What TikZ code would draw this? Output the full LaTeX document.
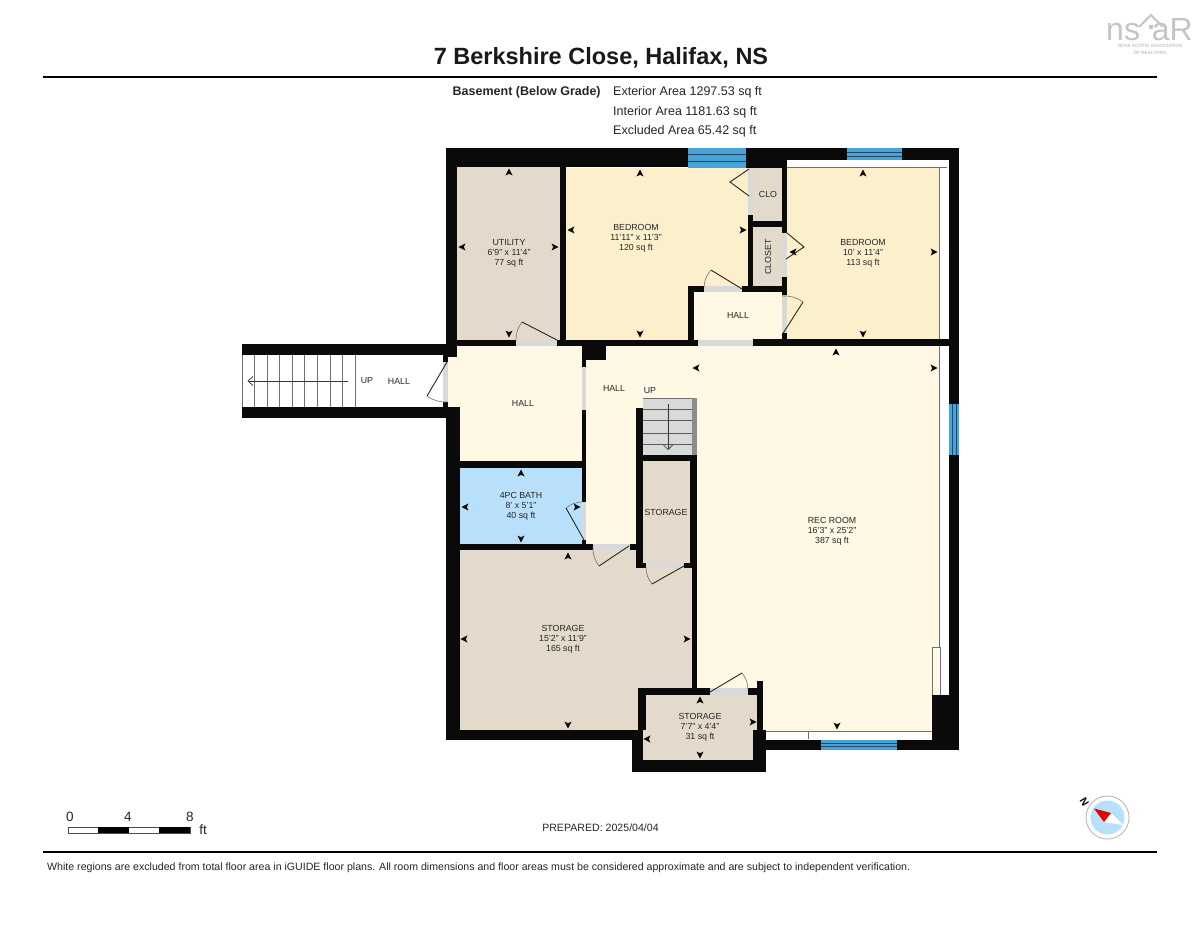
\documentclass[tikz,border=0pt]{standalone}
\usepackage{fontspec}
\setmainfont{Liberation Sans}
\definecolor{wallc}{HTML}{0A0A0A}
\definecolor{tan}{HTML}{E3DACB}
\definecolor{bed}{HTML}{FCEFCB}
\definecolor{hallc}{HTML}{FEF8E5}
\definecolor{bath}{HTML}{B8E0FB}
\definecolor{win}{HTML}{4AA3D8}
\definecolor{gap}{HTML}{D9D9D9}
\definecolor{linec}{HTML}{707070}
\definecolor{logoc}{HTML}{C4C4C4}
\newcommand{\W}[4]{\fill[wallc] (#1,#2) rectangle (#3,#4);}
\newcommand{\G}[4]{\fill[gap] (#1,#2) rectangle (#3,#4);}
\newcommand{\D}[3]{\fill[wallc,shift={(#1,#2)},rotate=-#3] (3.5,0) -- (-3.5,3.6) -- (-1.8,0) -- (-3.5,-3.6) -- cycle;}
\tikzset{
  roomtext/.style={font=\fontsize{8.8}{9.8}\selectfont,align=center,text=black!85,inner sep=0pt},
  headtext/.style={font=\fontsize{12.5}{14}\selectfont,anchor=west,inner sep=0pt,text=black!85},
  doorleaf/.style={draw=black!85,line width=.9pt},
  doorarc/.style={draw=linec,line width=.6pt},
  thin grey/.style={draw=linec,line width=1pt},
  scaletext/.style={font=\fontsize{13.5}{15}\selectfont,inner sep=0pt,text=black!85},
}
\begin{document}
\begin{tikzpicture}[x=1pt,y=-1pt]
\useasboundingbox (0,0) rectangle (1200,927);
\fill[white] (0,0) rectangle (1200,927);
% header
\node[font=\bfseries\fontsize{23.5}{28}\selectfont,inner sep=0pt,text=black!90] (title) at (601,57.5) {7 Berkshire Close, Halifax, NS};
\draw[black,line width=1.6pt] (43,77) -- (1157,77);
\draw[black,line width=1.6pt] (43,852) -- (1157,852);
\node[font=\bfseries\fontsize{12.5}{14}\selectfont,anchor=west,inner sep=0pt,text=black!85] (lvl) at (452.5,92.5) {Basement (Below Grade)};
\node[headtext] (ext) at (613,92.5) {Exterior Area 1297.53 sq ft};
\node[headtext] (int) at (613,112) {Interior Area 1181.63 sq ft};
\node[headtext] (exc) at (613,131.5) {Excluded Area 65.42 sq ft};
% logo
\node[font=\fontsize{32}{33}\selectfont,text=logoc,inner sep=0pt,anchor=base west] (logoa) at (1106,40) {ns};
\node[font=\fontsize{32}{33}\selectfont,text=logoc,inner sep=0pt,anchor=base east] (logob) at (1193,40) {aR};
\draw[logoc,line width=2pt] (1139,27) -- (1151,15) -- (1163,27);
\fill[logoc] (1149,25) rectangle (1153,29);
\node[font=\bfseries\fontsize{4.6}{5}\selectfont,text=logoc,inner sep=0pt] (logoc1) at (1150,46) {NOVA SCOTIA ASSOCIATION};
\node[font=\bfseries\fontsize{4.6}{5}\selectfont,text=logoc,inner sep=0pt] (logoc2) at (1150,53) {OF REALTORS};
% floors
\fill[hallc] (586,346) rectangle (939,731);
\fill[hallc] (448,345) rectangle (582,461);
\fill[tan] (457,167) rectangle (560,340);
\fill[bed] (566,168) rectangle (750,340);
\fill[tan] (750,168) rectangle (782,221);
\fill[tan] (753,227) rectangle (782,287);
\fill[bed] (787,167) rectangle (939,340);
\fill[hallc] (694,292) rectangle (782,340);
\fill[bath] (460,468) rectangle (582,544);
\fill[tan] (459,550) rectangle (692,730);
\fill[tan] (642,461) rectangle (690,563);
\fill[tan] (646,695) rectangle (757,730);
\fill[tan] (643,730) rectangle (753,760);
% white strips and lines
\draw[thin grey] (787,167) -- (947,167);
\draw[thin grey] (939,167) -- (939,647) -- (932,647) -- (932,731);
\draw[thin grey] (940,647) -- (940,695);
\draw[thin grey] (763,731) -- (932,731);
\draw[thin grey] (808,731) -- (808,739);
% stair corridor
\foreach \x in {242,254.5,267,279.5,292,304.5,317,330,342.5,355}{\draw[thin grey] (\x,355) -- (\x,407);}
\draw[black!80,line width=.7pt] (348,381) -- (249,381);
\draw[black!80,line width=.7pt] (253,376.5) -- (248,381) -- (253,385.5);
% basement stair
\fill[gap] (643,398) rectangle (692,455);
\fill[black!45] (692,398) rectangle (697,455);
\draw[thin grey] (643,398) -- (692,398);
\foreach \y in {409.5,420.5,433,444.5}{\draw[black!65,line width=.9pt] (643,\y) -- (692,\y);}
\draw[black!80,line width=.7pt] (668,404) -- (668,449);
\draw[black!80,line width=.7pt] (663.5,445) -- (668,449.5) -- (672.5,445);
% walls: outer
\W{446}{148}{688}{167}
\W{746}{148}{847}{160}
\W{902}{148}{959}{160}
\W{746}{160}{787}{168}
\W{949}{148}{959}{750}
\W{446}{148}{457}{357}
\W{932}{695}{959}{750}
\W{763}{740}{959}{750}
\W{560}{167}{566}{340}
\W{242}{344}{446}{355}
\W{242}{407}{446}{418}
\W{443}{344}{457}{357}
\W{443}{357}{448}{362}
\W{443}{402}{448}{407}
\W{446}{407}{460}{740}
\W{446}{730}{638}{740}
\W{638}{688}{646}{730}
\W{632}{730}{643}{772}
\W{632}{760}{766}{772}
\W{753}{730}{766}{772}
\W{757}{681}{763}{740}
\W{638}{688}{757}{695}
% interior walls
\W{446}{340}{698}{346}
\W{753}{339}{949}{346}
\W{582}{346}{606}{360}
\W{582}{346}{586}{550}
\W{460}{461}{586}{468}
\W{446}{544}{636}{550}
\W{636}{408}{643}{568}
\W{636}{455}{697}{461}
\W{690}{455}{697}{568}
\W{692}{568}{697}{688}
\W{636}{563}{690}{568}
\W{748}{215}{753}{290}
\W{753}{221}{787}{227}
\W{782}{160}{787}{233}
\W{782}{277}{787}{346}
\W{688}{286}{787}{292}
\W{688}{286}{694}{346}
% door gaps
\G{516}{340}{557}{346}
\G{748}{168}{753}{215}
\G{782}{233}{787}{277}
\G{704}{286}{742}{292}
\G{782}{295}{787}{333}
\G{698}{340}{753}{346}
\G{443}{362}{448}{402}
\G{582}{367}{586}{410}
\G{582}{502}{586}{540}
\G{593}{544}{630}{550}
\G{646}{563}{684}{568}
\G{710}{688}{748}{695}
% windows
\foreach \xa/\xb/\ya/\yb in {688/746/148/168,847/902/148/160,821/897/740/750}{
  \fill[win] (\xa,\ya) rectangle (\xb,\yb);
  \draw[black!55!win,line width=.5pt] (\xa,{\ya+(\yb-\ya)/3}) -- (\xb,{\ya+(\yb-\ya)/3});
  \draw[black!55!win,line width=.5pt] (\xa,{\ya+2*(\yb-\ya)/3}) -- (\xb,{\ya+2*(\yb-\ya)/3});
}
\fill[win] (949,404) rectangle (959,455);
\draw[black!55!win,line width=.5pt] (952.5,404) -- (952.5,455);
\draw[black!55!win,line width=.5pt] (955.8,404) -- (955.8,455);
% door leaves
\draw[doorleaf] (557,340) -- (522,322);
\draw[doorarc] (522,322) to[bend right=18] (516,340);
\draw[doorleaf] (749,169) -- (730,182) -- (749,196);
\draw[doorleaf] (787,233) -- (804,247) -- (786,259);
\draw[doorleaf] (742,289) -- (711,270);
\draw[doorarc] (711,270) to[bend right=18] (704,287);
\draw[doorleaf] (782,335) -- (803,302);
\draw[doorarc] (803,302) to[bend right=18] (782,296);
\draw[doorleaf] (447,362) -- (427,396);
\draw[doorarc] (427,396) to[bend right=18] (448,402);
\draw[doorleaf] (584,540) -- (566,508);
\draw[doorarc] (566,508) to[bend left=18] (582,502);
\draw[doorleaf] (629,546) -- (599,566);
\draw[doorarc] (599,566) to[bend left=18] (593,547);
\draw[doorleaf] (684,566) -- (652,584);
\draw[doorarc] (652,584) to[bend left=18] (646,567);
\draw[doorleaf] (710,692) -- (742,673);
\draw[doorarc] (742,673) to[bend left=18] (748,690);
% dimension arrows
\D{509}{172}{-90}\D{509}{334}{90}\D{462}{247}{180}\D{555}{247}{0}
\D{640}{173}{-90}\D{640}{334}{90}\D{571}{230}{180}\D{743}{230}{0}
\D{863}{173}{-90}\D{863}{334}{90}\D{793}{252}{180}\D{934}{252}{0}
\D{836}{352}{-90}\D{696}{368}{180}\D{934}{368}{0}\D{837}{726}{90}
\D{521}{473}{-90}\D{521}{539}{90}\D{465}{507}{180}\D{577}{507}{0}
\D{568}{556}{-90}\D{568}{725}{90}\D{464}{639}{180}\D{687}{639}{0}
\D{700}{700}{-90}\D{700}{755}{90}\D{647}{739}{180}\D{753}{722}{0}
% room labels
\node[roomtext] (r1) at (509,253.5) {UTILITY\\6'9" x 11'4"\\77 sq ft};
\node[roomtext] (r2) at (636,238.5) {BEDROOM\\11'11" x 11'3"\\120 sq ft};
\node[roomtext] (r3) at (863,253.5) {BEDROOM\\10' x 11'4"\\113 sq ft};
\node[roomtext] (r4) at (768,194.5) {CLO};
\node[roomtext,rotate=90] (r5) at (768,257) {CLOSET};
\node[roomtext] (r6) at (738,315.5) {HALL};
\node[roomtext] (r7) at (367,381) {UP};
\node[roomtext] (r8) at (399,381) {HALL};
\node[roomtext] (r9) at (523,403) {HALL};
\node[roomtext] (r10) at (614,388.5) {HALL};
\node[roomtext] (r11) at (650,390.5) {UP};
\node[roomtext] (r12) at (666,512) {STORAGE};
\node[roomtext] (r13) at (521,506.5) {4PC BATH\\8' x 5'1"\\40 sq ft};
\node[roomtext] (r14) at (563,639.5) {STORAGE\\15'2" x 11'9"\\165 sq ft};
\node[roomtext] (r15) at (832,531.5) {REC ROOM\\16'3" x 25'2"\\387 sq ft};
\node[roomtext] (r16) at (700,727.5) {STORAGE\\7'7" x 4'4"\\31 sq ft};
% scale bar
\draw[black!70,fill=white,line width=.6pt] (68,827) rectangle (190,833);
\fill[black] (98,827) rectangle (129,833);
\fill[black] (159,827) rectangle (190,833);
\node[scaletext] (s0) at (70,816.5) {0};
\node[scaletext] (s4) at (128,816.5) {4};
\node[scaletext] (s8) at (190,816.5) {8};
\node[scaletext] (sft) at (203,829.5) {ft};
\node[font=\fontsize{10.6}{12}\selectfont,inner sep=0pt,text=black!85] (prep) at (600.5,827.5) {PREPARED: 2025/04/04};
% compass
\draw[black!30,fill=white,line width=.8pt] (1107.5,817.5) circle (21.5);
\fill[bath] (1107.5,817.5) circle (17);
\fill[white] (1111,813) -- (1123,825) -- (1104,822) -- cycle;
\fill[red!90!black] (1094,808.5) -- (1111,813) -- (1104,822) -- cycle;
\node[font=\bfseries\fontsize{10.5}{11}\selectfont,inner sep=0pt,rotate=-60] (north) at (1084.5,802) {N};
% footer
\node[font=\fontsize{10.6}{12}\selectfont,anchor=west,inner sep=0pt,text=black!85] (foot) at (47,867.5) {White regions are excluded from total floor area in iGUIDE floor plans. All room dimensions and floor areas must be considered approximate and are subject to independent verification.};
\end{tikzpicture}
\end{document}
